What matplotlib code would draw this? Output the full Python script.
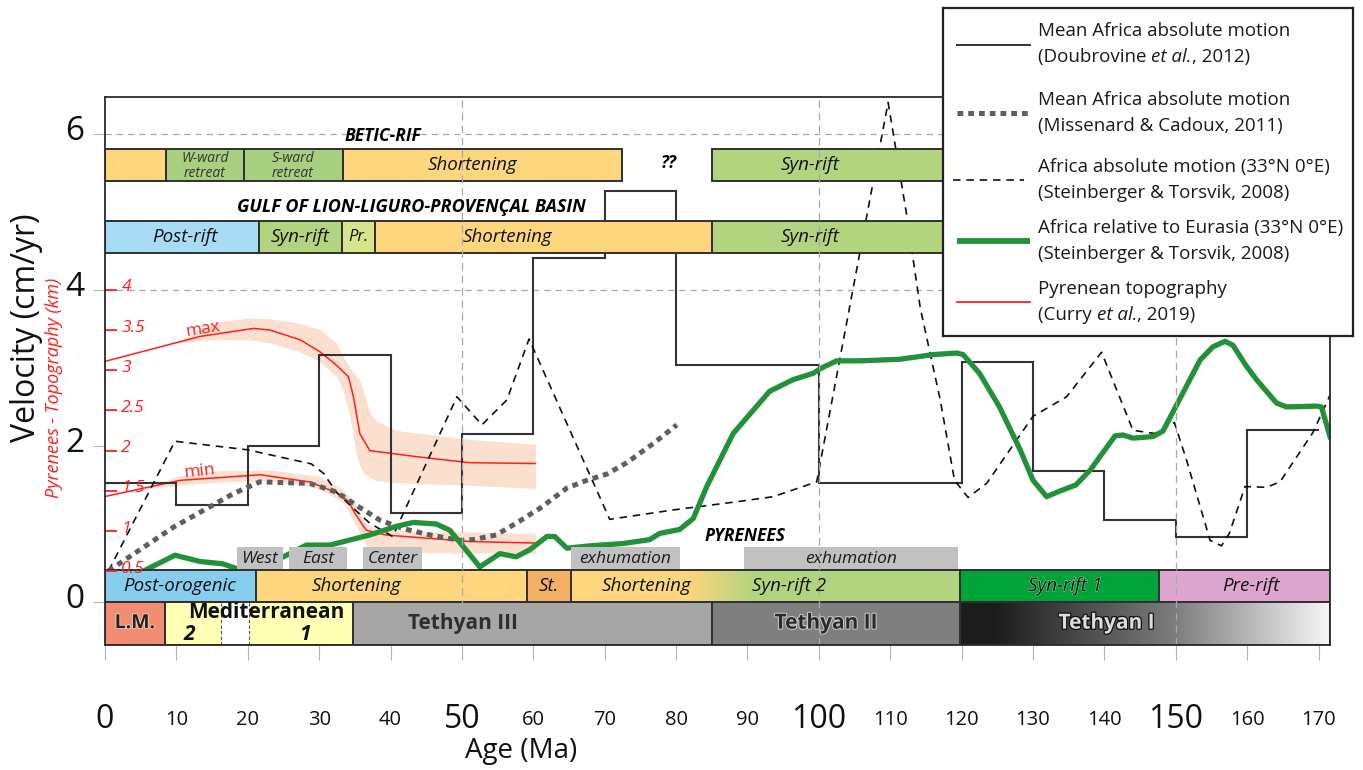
import numpy as np
import matplotlib
matplotlib.use("Agg")
import matplotlib.pyplot as plt
from matplotlib import font_manager as fm
from matplotlib.patches import Rectangle
from matplotlib.colors import LinearSegmentedColormap
import matplotlib.patheffects as pe
from matplotlib.transforms import offset_copy

# ---------------------------------------------------------------- data
# Mean Africa absolute motion (Doubrovine et al., 2012), piecewise constant
doub_edges = [0, 10, 20, 30, 40, 50, 60, 70, 80, 100, 120, 130, 140, 150, 160, 170]
doub_vel = [1.53, 1.24, 2.00, 3.17, 1.14, 2.15, 4.41, 5.26, 3.04, 1.53,
            3.08, 1.68, 1.05, 0.83, 2.20]

# Mean Africa absolute motion (Missenard & Cadoux, 2011)
miss_age = [0.5, 9.6, 18, 21.7, 28.7, 32.4, 35.2, 38.5, 41.8, 45.5, 49.7,
            51.6, 54.8, 57.6, 60.9, 64.7, 67.5, 70.3, 73, 76.8, 80.1]
miss_vel = [0.40, 0.96, 1.39, 1.54, 1.52, 1.41, 1.24, 1.05, 0.94, 0.86, 0.79,
            0.80, 0.86, 1.01, 1.20, 1.46, 1.56, 1.64, 1.78, 2.03, 2.27]

# Africa absolute motion at 33N 0E (Steinberger & Torsvik, 2008)
abs_age = [0.5, 9.8, 20, 28.9, 30.6, 32.4, 34.8, 37.1, 40.3, 49.3, 52.8, 56.3,
           59.4, 70.7, 79.6, 88.9, 93.6, 99.7, 109.7, 112.3, 114.2, 117, 119,
           120.9, 123.5, 130, 134.7, 139.6, 144, 147, 149.8, 151.5, 154.8,
           156.4, 157.5, 159.7, 162.7, 164.6, 169.2, 171.6]
abs_vel = [0.40, 2.06, 1.95, 1.77, 1.65, 1.41, 1.20, 1.01, 0.84, 2.63, 2.27, 2.59,
           3.37, 1.06, 1.18, 1.29, 1.35, 1.54, 6.40, 4.96, 3.77, 2.59, 1.56,
           1.34, 1.52, 2.38, 2.63, 3.20, 2.20, 2.16, 2.30, 1.82, 0.79,
           0.72, 0.88, 1.48, 1.47, 1.54, 2.17, 2.65]

# Africa relative to Eurasia at 33N 0E (Steinberger & Torsvik, 2008)
rel_age = [5.0, 9.8, 13.3, 16.5, 18.4, 25, 28.2, 31.5, 37.1, 40.8, 43.2, 46.4,
           48.3, 50.2, 52.5, 55.3, 57.6, 59.5, 61.9, 63, 64.7, 67.9, 72.6,
           76.3, 77.7, 80.5, 82.4, 84.3, 88, 93.1, 96.4, 99.2, 100.4, 102.5,
           105.7, 111.3, 116, 119.3, 120.2, 122.5, 125.3, 128.2, 130, 131.9,
           133.7, 136, 138, 141.5, 142.6, 144, 146.8, 148.2, 149.4, 151,
           153.4, 155.2, 156.9, 158, 159.9, 161.3, 164.1, 165.5, 169.7,
           170.4, 171.6]
rel_vel = [0.38, 0.60, 0.52, 0.49, 0.43, 0.58, 0.73, 0.73, 0.86, 0.97, 1.02, 1.00,
           0.92, 0.71, 0.45, 0.62, 0.58, 0.67, 0.84, 0.84, 0.69, 0.72, 0.75,
           0.80, 0.88, 0.93, 1.07, 1.48, 2.16, 2.70, 2.85, 2.93, 3.00, 3.09,
           3.09, 3.11, 3.17, 3.19, 3.17, 2.93, 2.50, 1.95, 1.56, 1.35,
           1.42, 1.50, 1.69, 2.13, 2.14, 2.10, 2.12, 2.19, 2.40, 2.68,
           3.10, 3.27, 3.34, 3.29, 3.02, 2.85, 2.55, 2.50, 2.51,
           2.50, 2.12]

# Pyrenean topography (Curry et al., 2019), km
topo_max_age = [0, 13.3, 20.8, 23.1, 27.3, 30.1, 32.2, 34.1, 34.8, 35.7, 37.1,
                44.1, 51.1, 60.3]
topo_max_km = [3.11, 3.42, 3.52, 3.50, 3.38, 3.23, 3.08, 2.92, 2.67, 2.21, 2.00,
               1.92, 1.85, 1.84]
topo_min_age = [0, 10.5, 21.7, 28.7, 32.4, 34.1, 35.0, 36.6, 39.4, 51.1, 60.3]
topo_min_km = [1.43, 1.63, 1.70, 1.61, 1.48, 1.37, 1.22, 1.01, 0.95, 0.87, 0.85]

band_max_age = [10, 15, 20, 23.1, 27, 30.1, 32.4, 33.1, 34.3, 35.2, 35.7, 36.2,
                37.1, 38, 40.8, 51.1, 60.3]
band_max_hi = [3.34, 3.59, 3.65, 3.64, 3.59, 3.51, 3.34, 3.21, 3.03, 2.93, 2.88,
               2.74, 2.47, 2.37, 2.25, 2.14, 2.08]
band_max_lo = [3.34, 3.38, 3.38, 3.34, 3.24, 3.11, 2.92, 2.82, 2.43, 1.96, 1.82,
               1.72, 1.67, 1.63, 1.60, 1.57, 1.53]

band_min_age = [5, 10.5, 16, 23.1, 30.1, 33.4, 35.2, 36.6, 38.5, 45, 51, 60.3]
band_min_hi = [1.52, 1.69, 1.75, 1.76, 1.68, 1.51, 1.33, 1.09, 1.02, 0.99, 0.99, 0.97]
band_min_lo = [1.52, 1.57, 1.61, 1.63, 1.53, 1.35, 1.06, 0.82, 0.75, 0.73, 0.73, 0.72]

topo_ticks = [0.5, 1, 1.5, 2, 2.5, 3, 3.5, 4]
age_ticks = list(range(0, 171, 10))
vel_ticks = [0, 2, 4, 6]

# Tectonic phases (start age, end age, name)
betic_phases = [(0, 8.5, ""), (8.5, 19.5, "W-ward\nretreat"),
                (19.5, 33.3, "S-ward\nretreat"), (33.3, 72.4, "Shortening"),
                (85, 171.6, "Syn-rift")]
gulf_phases = [(0, 21.6, "Post-rift"), (21.6, 33.2, "Syn-rift"), (33.2, 37.8, "Pr."),
               (37.8, 85, "Shortening"), (85, 171.6, "Syn-rift")]
pyr_phases = [(0, 21.1, "Post-orogenic"), (21.1, 59.1, "Shortening"), (59.1, 65.3, "St."),
              (65.3, 86, "Shortening"), (86, 119.7, "Syn-rift 2"),
              (119.7, 147.6, "Syn-rift 1"), (147.6, 171.6, "Pre-rift")]
tethys_phases = [(0, 8.4, "L.M."), (8.4, 34.7, "Mediterranean"),
                 (34.7, 85, "Tethyan III"), (85, 119.7, "Tethyan II"),
                 (119.7, 171.6, "Tethyan I")]
pyr_events = [(18.5, 24.9, "West"), (25.8, 33.9, "East"), (36.1, 44.4, "Center"),
              (65.3, 80.5, "exhumation"), (89.5, 119.5, "exhumation")]

# ---------------------------------------------------------------- fonts
ttf = fm.fontManager.ttflist


def _styles(fam):
    return {f.style for f in ttf if f.name == fam}


main_font = next((f for f in ["Open Sans", "Lato", "Noto Sans"]
                  if "italic" in _styles(f)), "DejaVu Sans")
narrow_font = "Liberation Sans Narrow" if _styles("Liberation Sans Narrow") else main_font

plt.rcParams["font.family"] = [main_font, "DejaVu Sans"]

# ---------------------------------------------------------------- styles
W, H = 1363, 770
C_YEL = "#fed67d"
C_SYN = "#b3d47f"
C_RET = "#a9cf80"
C_BLUE_G = "#a8dcf5"
C_BLUE_P = "#86cdee"
C_PR = "#d6e58c"
C_ST = "#f2b163"
C_SYN1 = "#00a23a"
C_PINK = "#dca6cf"
C_LM = "#f28c72"
C_MED = "#ffffb5"
C_T3 = "#a6a6a6"
C_T2 = "#7f7f7f"
EDGE = "#303030"
RED = "#ff1f1f"
GREEN = "#22913a"


def topo_to_vel(km):
    return 4.0 - (4.0 - np.asarray(km, dtype=float)) * 1.03


fig = plt.figure(figsize=(W / 100, H / 100), dpi=100)
ax_l, ax_r, ax_t, ax_b = 105, 1330, 97, 645
ax = fig.add_axes([ax_l / W, 1 - ax_b / H, (ax_r - ax_l) / W, (ax_b - ax_t) / H])
XMAX = 171.6
YMIN, YMAX = -0.55, 6.47


def fx(px):
    return px / W


def fy(py):
    return 1 - py / H


# ---------------------------------------------------------------- topography
ax.fill_between(band_max_age, topo_to_vel(band_max_lo), topo_to_vel(band_max_hi),
                color="#fbe0cf", lw=0, zorder=1)
ax.fill_between(band_min_age, topo_to_vel(band_min_lo), topo_to_vel(band_min_hi),
                color="#fbe0cf", lw=0, zorder=1)
ax.plot(topo_max_age, topo_to_vel(topo_max_km), color=RED, lw=1.1, zorder=2)
ax.plot(topo_min_age, topo_to_vel(topo_min_km), color=RED, lw=1.1, zorder=2)
ax.text(13.7, 3.50, "max", color=RED, fontsize=12.5, rotation=9, ha="center",
        va="center", zorder=8)
ax.text(13.2, 1.68, "min", color=RED, fontsize=12.5, rotation=6, ha="center",
        va="center", zorder=8)
for t in topo_ticks:
    v = float(topo_to_vel(t))
    ax.plot([0, 1.7], [v, v], color=RED, lw=1.3, zorder=8, solid_capstyle="butt")
    ax.text(2.3, v + 0.03, f"{t:g}", color=RED, fontsize=12.5, style="italic",
            ha="left", va="center", zorder=8)

# ---------------------------------------------------------------- velocity curves
ax.stairs(doub_vel, doub_edges, baseline=None, color="#333333", lw=1.5, zorder=3)
ax.plot(abs_age, abs_vel, color="#111111", lw=1.2, dashes=(4.5, 3.5), zorder=3)
ax.plot(miss_age, miss_vel, color="#5f5f5f", lw=3.6, dashes=(1.15, 1.0),
        solid_capstyle="butt", dash_capstyle="butt", zorder=3.2)
ax.plot(rel_age, rel_vel, color=GREEN, lw=3.8, solid_joinstyle="round", zorder=3.4)

# ---------------------------------------------------------------- grid
for v in (4, 6):
    ax.axhline(v, color="#a8a8a8", lw=0.9, dashes=(5, 4), zorder=0.5)
for a in (50, 100, 150):
    ax.axvline(a, color="#a8a8a8", lw=0.9, dashes=(6, 4), zorder=6)


# ---------------------------------------------------------------- bars
def box(x0, x1, y0, y1, fc, ec=EDGE, lw=1.4, z=5):
    ax.add_patch(Rectangle((x0, y0), x1 - x0, y1 - y0, facecolor=fc,
                           edgecolor=ec, lw=lw, zorder=z))


def label(x, y, s, size=13, style="italic", weight="normal", color="#111111",
          family=None, halo=None, z=7):
    t = ax.text(x, y, s, fontsize=size, style=style, weight=weight, color=color,
                ha="center", va="center", zorder=z, linespacing=0.95,
                family=family if family else [main_font, "DejaVu Sans"])
    if halo:
        t.set_path_effects([pe.withStroke(linewidth=halo[1], foreground=halo[0])])
    return t


# Betic-Rif
BY0, BY1 = 5.40, 5.81
betic_cols = [C_YEL, C_RET, C_RET, C_YEL, C_SYN]
betic_lab_x = [None, 14.0, 26.3, 51.5, 98.7]
for (a0, a1, name), c, lx in zip(betic_phases, betic_cols, betic_lab_x):
    box(a0, a1, BY0, BY1, c)
    if name:
        small = "\n" in name
        label(lx, (BY0 + BY1) / 2 - (0.02 if small else 0), name,
              size=10 if small else 13.5, color="#333333" if small else "#111111",
              family=[narrow_font, "DejaVu Sans"] if small else None)
ax.text(38.9, 5.97, "BETIC-RIF", fontsize=12.5, style="italic", weight="bold",
        ha="center", va="center", zorder=7)
ax.text(78.9, 5.62, "??", fontsize=12.5, style="italic", weight="bold",
        ha="center", va="center", zorder=7)

# Gulf of Lion
GY0, GY1 = 4.47, 4.88
gulf_cols = [C_BLUE_G, C_SYN, C_PR, C_YEL, C_SYN]
gulf_lab_x = [11.2, 27.3, 35.5, 56.4, 98.7]
for (a0, a1, name), c, lx in zip(gulf_phases, gulf_cols, gulf_lab_x):
    box(a0, a1, GY0, GY1, c)
    label(lx, (GY0 + GY1) / 2, name, size=13.5 if name != "Pr." else 12)
ax.text(42.9, 5.06, "GULF OF LION-LIGURO-PROVENÇAL BASIN", fontsize=13,
        style="italic", weight="bold", ha="center", va="center", zorder=7)

# Pyrenees
PY0, PY1 = 0.0, 0.41
pyr_cols = [C_BLUE_P, C_YEL, C_ST, C_YEL, C_SYN, C_SYN1, C_PINK]
pyr_lab_x = [10.5, 35.2, 62.2, 75.9, 95.8, 134.5, 160.5]
for (a0, a1, name), c, lx in zip(pyr_phases, pyr_cols, pyr_lab_x):
    if name.startswith("Shortening") and a0 > 60 or name == "Syn-rift 2":
        box(a0, a1, PY0, PY1, c, ec="none", lw=0)
    else:
        box(a0, a1, PY0, PY1, c)
    label(lx, (PY0 + PY1) / 2, name, size=13.5,
          halo=("#8fd39c", 0.8) if name == "Syn-rift 1" else None)
grad = np.linspace(0, 1, 256).reshape(1, -1)
ax.imshow(grad, extent=[81.5, 91, PY0, PY1], aspect="auto", zorder=5.1,
          cmap=LinearSegmentedColormap.from_list("yg", [C_YEL, C_SYN]),
          interpolation="bilinear")
box(65.3, 119.7, PY0, PY1, "none", z=5.2)
ax.text(89.6, 0.85, "PYRENEES", fontsize=12.5, style="italic", weight="bold",
        ha="center", va="center", zorder=7)

for a0, a1, name in pyr_events:
    box(a0, a1, PY1, 0.705, "#c1c1c1", ec="none", lw=0, z=4)
    label((a0 + a1) / 2, (PY1 + 0.705) / 2, name, size=12.5, color="#1a1a1a", z=4.5)

# Tethys / Mediterranean stages
TY0, TY1 = YMIN, 0.0
box(0, 8.4, TY0, TY1, C_LM)
box(8.4, 34.7, TY0, TY1, C_MED)
ax.add_patch(Rectangle((16.2, TY0), 4.0, TY1 - TY0, facecolor="white",
                       edgecolor="none", zorder=5.05))
for a in (16.2, 20.2):
    ax.plot([a, a], [TY0, TY1], color="#555555", lw=0.8, dashes=(3, 2), zorder=5.1)
box(8.4, 34.7, TY0, TY1, "none", z=5.2)
box(34.7, 85, TY0, TY1, C_T3)
box(85, 119.7, TY0, TY1, C_T2)
tcmap = LinearSegmentedColormap.from_list(
    "tI", [(0, "#1c1c1c"), (0.09, "#1c1c1c"), (0.58, "#7d7d7d"), (1, "#f7f7f7")])
ax.imshow(grad, extent=[119.7, XMAX, TY0, TY1], aspect="auto", zorder=5.1,
          cmap=tcmap, interpolation="bilinear")
box(119.7, XMAX, TY0, TY1, "none", z=5.2)

label(4.2, -0.27, "L.M.", size=14, style="normal", weight="bold", color="#222222",
      halo=("#f8d0c4", 1.2))
label(22.6, -0.14, "Mediterranean", size=15, style="normal", weight="bold",
      color="#111111")
label(11.8, -0.41, "2", size=15, style="italic", weight="bold", color="#111111")
label(28.0, -0.41, "1", size=15, style="italic", weight="bold", color="#111111")
label(50.1, -0.27, "Tethyan III", size=15, style="normal", weight="bold",
      color="#2e2e2e")
label(101.0, -0.27, "Tethyan II", size=15, style="normal", weight="bold",
      color="#2a2a2a", halo=("#c8c8c8", 1.5))
label(140.3, -0.27, "Tethyan I", size=15, style="normal", weight="bold",
      color="#dcdcdc", halo=("#111111", 1.8))

# ---------------------------------------------------------------- axes
ax.set_xlim(0, XMAX)
ax.set_ylim(YMIN, YMAX)
for s in ax.spines.values():
    s.set_color("#2a2a2a")
    s.set_linewidth(1.3)
    s.set_zorder(9)
ax.set_xticks(age_ticks)
ax.set_xticklabels([])
ax.set_yticks(vel_ticks)
ax.set_yticklabels([])
ax.tick_params(axis="x", length=11, width=0.8, color="#b5b5b5", direction="out")
ax.tick_params(axis="y", length=9, width=0.8, color="#b5b5b5", direction="out")

for a in age_ticks:
    big = a % 50 == 0
    fig.text(fx(ax_l + a * (ax_r - ax_l) / XMAX), fy(720), str(a),
             fontsize=23 if big else 14.5, ha="center", va="center",
             color="#111111")
for v in vel_ticks:
    fig.text(fx(75), fy(600 - v * 78), str(v), fontsize=24, ha="center",
             va="center", color="#111111")

fig.text(fx(521), fy(751), "Age (Ma)", fontsize=20, ha="center", va="center",
         color="#111111")
fig.text(fx(27), fy(328), "Velocity (cm/yr)", fontsize=23, rotation=90,
         ha="center", va="center", color="#111111")
fig.text(fx(54), fy(388), "Pyrenees - Topography (km)", fontsize=13,
         style="italic", rotation=90, ha="center", va="center", color=RED)

# ---------------------------------------------------------------- legend
L0, L1, T0, T1 = 943, 1353, 8, 336
lax = fig.add_axes([fx(L0), fy(T1), (L1 - L0) / W, (T1 - T0) / H], zorder=20)
lax.set_xlim(L0, L1)
lax.set_ylim(T1, T0)
lax.set_xticks([])
lax.set_yticks([])
for s in lax.spines.values():
    s.set_linewidth(1.6)
    s.set_color("#222222")

hx = [957, 1030]
lax.plot(hx, [45, 45], color="#333333", lw=1.4)
lax.plot([957, 1028], [113, 113], color="#5f5f5f", lw=3.6, dashes=(1.15, 1.0),
         dash_capstyle="butt")
lax.plot([953, 1024], [180, 180], color="#111111", lw=1.2, dashes=(4.5, 3.5))
lax.plot(hx, [241, 241], color=GREEN, lw=4.2, solid_capstyle="butt")
lax.plot(hx, [302, 302], color=RED, lw=1.3)

renderer = fig.canvas.get_renderer()


def rich_line(x, y, parts, size=13.5):
    """Draw a line of text made of (string, style) pieces placed side by side."""
    trans = lax.transData
    dx = 0.0
    for s, st in parts:
        t = lax.text(x, y, s, fontsize=size, style=st, ha="left", va="center",
                     color="#1a1a1a",
                     transform=offset_copy(trans, fig=fig, x=dx, y=0, units="dots"))
        dx += t.get_window_extent(renderer=renderer).width


legend_lines = [
    (31, [("Mean Africa absolute motion", "normal")]),
    (57, [("(Doubrovine ", "normal"), ("et al.", "italic"), (", 2012)", "normal")]),
    (100, [("Mean Africa absolute motion", "normal")]),
    (126, [("(Missenard & Cadoux, 2011)", "normal")]),
    (167, [("Africa absolute motion (33°N 0°E)", "normal")]),
    (193, [("(Steinberger & Torsvik, 2008)", "normal")]),
    (228, [("Africa relative to Eurasia (33°N 0°E)", "normal")]),
    (254, [("(Steinberger & Torsvik, 2008)", "normal")]),
    (289, [("Pyrenean topography", "normal")]),
    (315, [("(Curry ", "normal"), ("et al.", "italic"), (", 2019)", "normal")]),
]
for yy, parts in legend_lines:
    rich_line(1038, yy, parts)

fig.savefig("out.png", dpi=100)
